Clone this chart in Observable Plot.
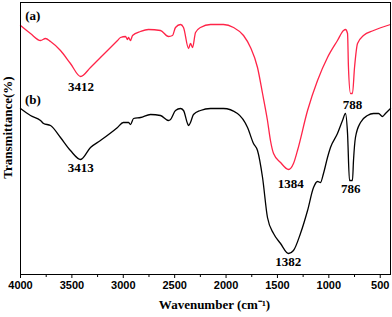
<!DOCTYPE html>
<html><head><meta charset="utf-8">
<script src="https://cdn.jsdelivr.net/npm/d3@7"></script>
<script src="https://cdn.jsdelivr.net/npm/@observablehq/plot@0.6"></script>
<style>body{margin:0;background:#fff}</style>
</head><body><div id="chart"></div>
<script>
const wavenumbersA = [4000,3903,3805,3757,3708,3611,3514,3415,3319,3222,3056,3027,2978,2959,2949,2930,2910,2832,2755,2638,2560,2521,2492,2443,2414,2365,2346,2326,2297,2249,2151,2025,1927,1830,1762,1694,1645,1597,1568,1538,1470,1392,1344,1305,1207,1110,1013,916,857,838,818,809,789,770,750,721,663,565,400];
const transA =      [249,241,234,236,233,224,211,198,207,217,234,237,238,235,237,234,239,243,245,244,238,239,247,250,247,226,231,227,242,247,250,250,247,239,227,207,181,154,134,121,112,105,111,124,164,194,217,234,244,245,241,207,181,181,207,231,239,244,250];
const wavenumbersB = [4000,3903,3805,3776,3708,3611,3514,3415,3319,3222,3056,3000,2949,2930,2900,2832,2735,2638,2560,2540,2492,2443,2414,2375,2365,2346,2317,2249,2151,2025,1889,1791,1733,1694,1645,1597,1538,1470,1392,1344,1276,1207,1149,1110,1081,1052,1013,984,916,867,838,818,799,770,760,741,692,624,565,516,478,449,400];
const transB =      [166,159,154,151,149,137,124,115,127,134,147,152,152,150,156,157,160,159,154,155,164,166,164,151,149,152,160,164,166,166,161,147,131,124,97,57,41,31,21,24,41,64,87,93,92,101,117,127,141,154,161,141,94,94,114,137,152,159,161,161,158,161,166];
const xTicks = [4000,3500,3000,2500,2000,1500,1000,500];
const minorTicks = [3750,3250,2750,2250,1750,1250,750];
const peakLabels = ["3412","3413","788","1384","786","1382"];
const peakX = [3412,3413,770,1370,786,1395];
const peakY = [188,107,170,91,86,13];
const seriesLabels = ["(a)","(b)"];
const seriesLabelX = [3880,3880];
const seriesLabelY = [259,175];
const yTitle = "Transmittance(%)";
const xTitle = "Wavenumber (cm⁻¹)";

const a = wavenumbersA.map((w,i)=>({w, t: transA[i]}));
const b = wavenumbersB.map((w,i)=>({w, t: transB[i]}));
const peaks = peakLabels.map((s,i)=>({s, x: peakX[i], y: peakY[i]}));
const sl = seriesLabels.map((s,i)=>({s, x: seriesLabelX[i], y: seriesLabelY[i]}));
const serif = "'Liberation Serif','Times New Roman',serif";

const chart = Plot.plot({
  width: 392, height: 317,
  marginLeft: 20, marginRight: 2, marginTop: 2, marginBottom: 43,
  x: {domain: [4000, 400], axis: null},
  y: {domain: [0, 272], axis: null},
  style: {background: "#fff"},
  marks: [
    Plot.axisX(minorTicks, {tickSize: 3, text: null, stroke: "#000"}),
    Plot.axisX(xTicks, {tickSize: 4, tickPadding: 3, tickFormat: d3.format("d"), fontSize: 11, fontWeight: "bold", fontFamily: "'Liberation Sans',Arial,sans-serif", fill: "#000", stroke: "#000", label: null}),
    Plot.line(a, {x: "w", y: "t", stroke: "#ff2448", strokeWidth: 1.3, curve: "monotone-x"}),
    Plot.line(b, {x: "w", y: "t", stroke: "#000", strokeWidth: 1.3, curve: "monotone-x"}),
    Plot.text(peaks, {x: "x", y: "y", text: "s", fontSize: 13, fontWeight: "bold", fontFamily: serif, fill: "#000"}),
    Plot.text(sl, {x: "x", y: "y", text: "s", fontSize: 13, fontWeight: "bold", fontFamily: serif, fill: "#000"}),
    Plot.text([yTitle], {x: 4126, y: 147, rotate: -90, fontSize: 13, fontWeight: "bold", fontFamily: serif, fill: "#000"}),
    Plot.text([xTitle], {frameAnchor: "bottom", dy: 34, dx: 9, fontSize: 13, fontWeight: "bold", fontFamily: serif, fill: "#000"}),
    Plot.frame({stroke: "#000", strokeWidth: 1})
  ]
});
document.getElementById("chart").append(chart);
</script></body></html>
